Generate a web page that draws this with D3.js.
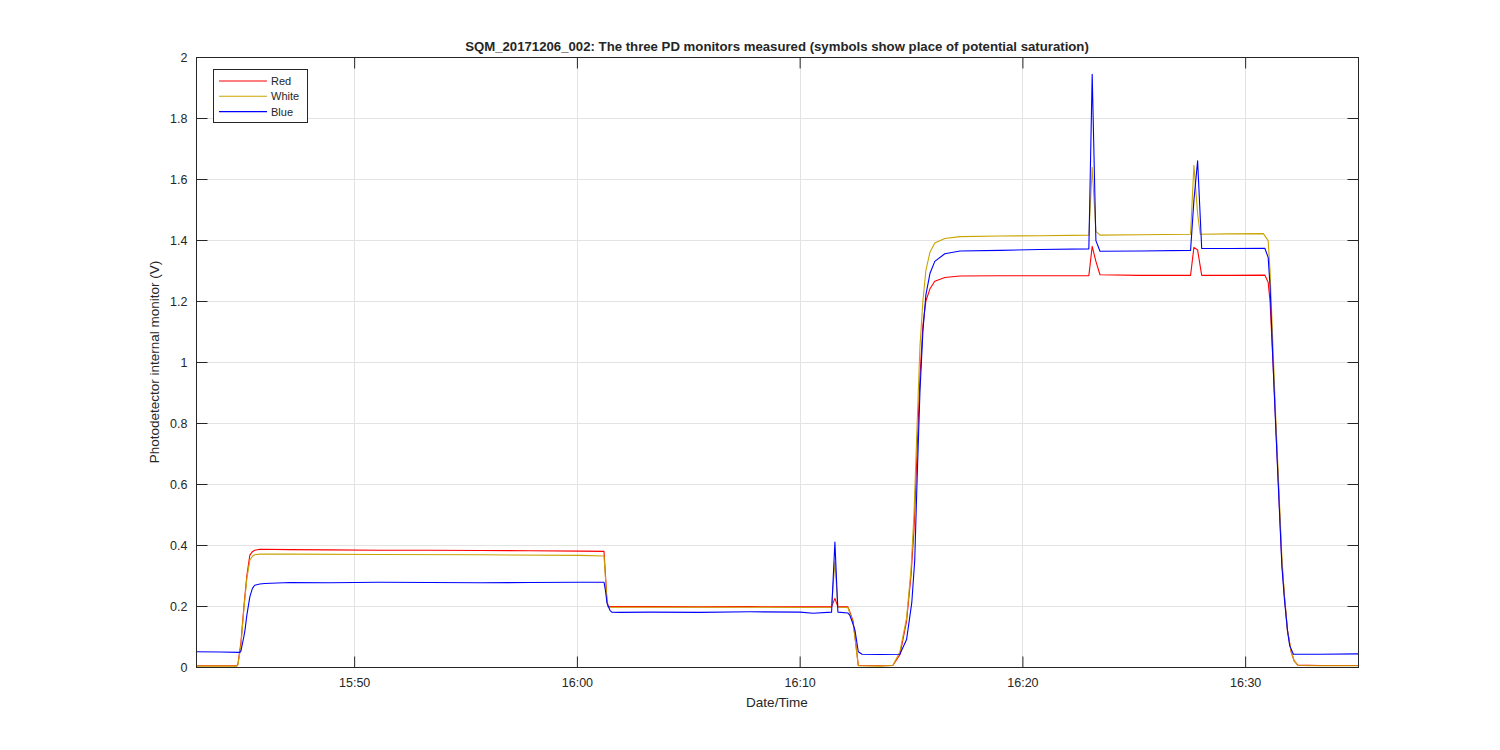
<!DOCTYPE html>
<html>
<head>
<meta charset="utf-8">
<script src="https://cdn.jsdelivr.net/npm/d3@7"></script>
<style>
  body { margin: 0; background: #fff; }
  svg { display: block; }
  text { font-family: "Liberation Sans", Arial, Helvetica, sans-serif; fill: #262626; }
</style>
</head>
<body>
<svg id="chart" width="1500" height="750"></svg>
<script>
// ---- data (time "HH:MM:SS" on 2017-12-06, value in V) ----
const seriesNames = ["Red", "White", "Blue"];
const seriesColors = ["#ff0000", "#c9a400", "#0000ff"];

const red = [
  ["15:42:54",0.004],["15:44:44",0.004],["15:44:47",0.010],["15:44:55",0.080],["15:45:03",0.197],
  ["15:45:11",0.300],["15:45:19",0.367],["15:45:26",0.378],["15:45:32",0.383],["15:45:46",0.386],
  ["15:47:07",0.385],["15:48:54",0.384],["15:51:09",0.383],["15:53:24",0.383],["15:55:39",0.382],
  ["15:57:53",0.381],["16:00:08",0.380],["16:01:13",0.379],["16:01:17",0.300],["16:01:21",0.220],
  ["16:01:24",0.198],["16:03:17",0.198],["16:05:31",0.197],["16:07:46",0.198],["16:10:01",0.197],
  ["16:11:26",0.197],["16:11:35",0.225],["16:11:43",0.197],["16:12:10",0.197],["16:12:15",0.181],
  ["16:12:24",0.150],["16:12:29",0.100],["16:12:38",0.005],["16:13:36",0.004],["16:14:11",0.005],
  ["16:14:30",0.040],["16:14:48",0.150],["16:15:00",0.300],["16:15:08",0.450],["16:15:16",0.700],
  ["16:15:24",0.950],["16:15:32",1.120],["16:15:40",1.200],["16:15:51",1.240],["16:16:04",1.265],
  ["16:16:31",1.277],["16:17:12",1.282],["16:18:59",1.283],["16:20:47",1.283],["16:22:59",1.283],
  ["16:23:08",1.379],["16:23:18",1.330],["16:23:29",1.286],["16:25:17",1.284],["16:27:33",1.284],
  ["16:27:42",1.376],["16:27:52",1.367],["16:28:03",1.284],["16:29:19",1.284],["16:30:53",1.285],
  ["16:31:02",1.261],["16:31:07",1.200],["16:31:15",1.000],["16:31:23",0.780],["16:31:31",0.560],
  ["16:31:39",0.340],["16:31:46",0.230],["16:31:54",0.120],["16:32:04",0.050],["16:32:12",0.020],
  ["16:32:22",0.006],["16:33:22",0.005],["16:35:04",0.005]
];

const white = [
  ["15:42:54",0.003],["15:44:44",0.003],["15:44:47",0.008],["15:44:55",0.070],["15:45:03",0.190],
  ["15:45:11",0.290],["15:45:19",0.350],["15:45:26",0.363],["15:45:32",0.368],["15:45:46",0.370],
  ["15:47:07",0.370],["15:51:09",0.369],["15:55:39",0.368],["16:00:08",0.366],["16:01:13",0.364],
  ["16:01:17",0.290],["16:01:21",0.215],["16:01:24",0.196],["16:03:17",0.196],["16:05:31",0.196],
  ["16:07:46",0.196],["16:10:01",0.195],["16:11:26",0.196],["16:11:35",0.345],["16:11:43",0.196],
  ["16:12:10",0.195],["16:12:15",0.178],["16:12:24",0.145],["16:12:29",0.095],["16:12:38",0.004],
  ["16:13:36",0.003],["16:14:11",0.005],["16:14:30",0.050],["16:14:48",0.160],["16:15:00",0.320],
  ["16:15:08",0.500],["16:15:16",0.780],["16:15:24",1.050],["16:15:32",1.200],["16:15:40",1.300],
  ["16:15:51",1.360],["16:16:04",1.390],["16:16:31",1.405],["16:17:12",1.411],["16:18:59",1.413],
  ["16:20:47",1.414],["16:22:59",1.416],["16:23:08",1.638],["16:23:18",1.428],["16:23:29",1.416],
  ["16:25:17",1.417],["16:27:33",1.419],["16:27:42",1.645],["16:27:52",1.486],["16:27:59",1.419],
  ["16:29:19",1.420],["16:30:49",1.421],["16:31:02",1.398],["16:31:07",1.300],["16:31:15",1.050],
  ["16:31:23",0.800],["16:31:31",0.580],["16:31:39",0.360],["16:31:46",0.230],["16:31:54",0.120],
  ["16:32:04",0.050],["16:32:12",0.020],["16:32:22",0.005],["16:33:22",0.004],["16:35:04",0.004]
];

const blue = [
  ["15:42:54",0.050],["15:44:00",0.049],["15:44:52",0.048],["15:44:55",0.052],["15:45:03",0.100],
  ["15:45:06",0.121],["15:45:11",0.170],["15:45:19",0.230],["15:45:26",0.258],["15:45:32",0.268],
  ["15:45:46",0.272],["15:45:59",0.274],["15:47:07",0.277],["15:48:54",0.276],["15:51:09",0.278],
  ["15:53:24",0.277],["15:55:39",0.276],["15:57:53",0.277],["16:00:08",0.278],["16:01:13",0.278],
  ["16:01:17",0.250],["16:01:21",0.210],["16:01:29",0.186],["16:01:34",0.180],["16:01:56",0.179],
  ["16:03:17",0.180],["16:05:31",0.179],["16:07:46",0.181],["16:10:01",0.180],["16:10:36",0.176],
  ["16:11:26",0.180],["16:11:35",0.410],["16:11:43",0.180],["16:12:10",0.177],["16:12:15",0.170],
  ["16:12:24",0.140],["16:12:29",0.121],["16:12:38",0.050],["16:12:48",0.042],["16:13:36",0.041],
  ["16:14:30",0.042],["16:14:48",0.090],["16:15:02",0.210],["16:15:10",0.350],["16:15:16",0.600],
  ["16:15:24",0.900],["16:15:32",1.100],["16:15:40",1.220],["16:15:51",1.290],["16:16:04",1.330],
  ["16:16:31",1.355],["16:17:12",1.364],["16:18:59",1.366],["16:20:47",1.369],["16:22:59",1.371],
  ["16:23:08",1.943],["16:23:18",1.398],["16:23:29",1.363],["16:25:17",1.364],["16:27:33",1.366],
  ["16:27:42",1.530],["16:27:52",1.660],["16:28:03",1.372],["16:29:19",1.372],["16:30:53",1.373],
  ["16:31:02",1.343],["16:31:07",1.250],["16:31:15",1.000],["16:31:23",0.770],["16:31:31",0.550],
  ["16:31:39",0.330],["16:31:46",0.220],["16:31:54",0.120],["16:32:00",0.070],["16:32:10",0.042],
  ["16:33:22",0.042],["16:35:04",0.043]
];

const xDomain = ["15:42:54", "16:35:04"];
const xTickLabels = ["15:50", "16:00", "16:10", "16:20", "16:30"];
const yTicks = [0, 0.2, 0.4, 0.6, 0.8, 1, 1.2, 1.4, 1.6, 1.8, 2];

const titleText = "SQM_20171206_002: The three PD monitors measured (symbols show place of potential saturation)";
const xLabel = "Date/Time";
const yLabel = "Photodetector internal monitor (V)";

// ---- drawing ----
const parseT = d3.timeParse("%Y-%m-%d %H:%M:%S");
const T = s => parseT("2017-12-06 " + (s.length === 5 ? s + ":00" : s));

const margin = {left: 196, top: 57, right: 1358, bottom: 667};
const svg = d3.select("#chart");

const x = d3.scaleTime().domain(xDomain.map(T)).range([margin.left, margin.right]);
const y = d3.scaleLinear().domain([0, 2]).range([margin.bottom, margin.top]);

const xTicks = xTickLabels.map(T);
const axisColor = "#262626";
const gridColor = "#e3e3e3";
const tickLen = 11;

// grid
const grid = svg.append("g");
grid.selectAll(".gx").data(xTicks).enter().append("line")
  .attr("x1", d => Math.round(x(d)) + 0.5).attr("x2", d => Math.round(x(d)) + 0.5)
  .attr("y1", margin.top).attr("y2", margin.bottom)
  .attr("stroke", gridColor).attr("stroke-width", 1);
grid.selectAll(".gy").data(yTicks.slice(1, -1)).enter().append("line")
  .attr("y1", d => Math.round(y(d)) + 0.5).attr("y2", d => Math.round(y(d)) + 0.5)
  .attr("x1", margin.left).attr("x2", margin.right)
  .attr("stroke", gridColor).attr("stroke-width", 1);

// axes with inward ticks on all sides
const fmtY = d => String(+d.toFixed(1));
const gL = svg.append("g").attr("transform", `translate(${margin.left + 0.5},0)`)
  .call(d3.axisLeft(y).tickValues(yTicks).tickSizeInner(-tickLen).tickSizeOuter(0).tickPadding(9).tickFormat(fmtY));
const gR = svg.append("g").attr("transform", `translate(${margin.right + 0.5},0)`)
  .call(d3.axisRight(y).tickValues(yTicks).tickSizeInner(-tickLen).tickSizeOuter(0).tickFormat(""));
const gB = svg.append("g").attr("transform", `translate(0,${margin.bottom + 0.5})`)
  .call(d3.axisBottom(x).tickValues(xTicks).tickSizeInner(-tickLen).tickSizeOuter(0).tickPadding(11).tickFormat(d3.timeFormat("%H:%M")));
const gT = svg.append("g").attr("transform", `translate(0,${margin.top + 0.5})`)
  .call(d3.axisTop(x).tickValues(xTicks).tickSizeInner(-tickLen).tickSizeOuter(0).tickFormat(""));
[gL, gR, gB, gT].forEach(g => {
  g.select(".domain").remove();
  g.selectAll(".tick line").attr("stroke", axisColor);
  g.selectAll(".tick text").attr("fill", axisColor).style("font-size", "12.5px")
    .style("font-family", '"Liberation Sans", Arial, sans-serif');
});

// series lines
const line = d3.line().x(d => x(T(d[0]))).y(d => y(d[1]));
const allSeries = [red, white, blue];
const plot = svg.append("g");
plot.append("clipPath").attr("id", "clip").append("rect")
  .attr("x", margin.left).attr("y", margin.top)
  .attr("width", margin.right - margin.left).attr("height", margin.bottom - margin.top);
allSeries.forEach((s, i) => {
  plot.append("path").datum(s)
    .attr("d", line).attr("fill", "none")
    .attr("stroke", seriesColors[i]).attr("stroke-width", 1.1)
    .attr("stroke-linejoin", "round")
    .attr("clip-path", "url(#clip)");
});

// box
svg.append("rect")
  .attr("x", margin.left + 0.5).attr("y", margin.top + 0.5)
  .attr("width", margin.right - margin.left).attr("height", margin.bottom - margin.top)
  .attr("fill", "none").attr("stroke", axisColor).attr("stroke-width", 1);

// title and labels
svg.append("text").attr("x", (margin.left + margin.right) / 2).attr("y", 51)
  .attr("text-anchor", "middle").style("font-size", "13.2px").style("font-weight", "bold")
  .attr("fill", "#000").text(titleText);
svg.append("text").attr("x", (margin.left + margin.right) / 2).attr("y", 707)
  .attr("text-anchor", "middle").style("font-size", "13.5px").text(xLabel);
svg.append("text").attr("transform", `translate(159,${(margin.top + margin.bottom) / 2}) rotate(-90)`)
  .attr("text-anchor", "middle").style("font-size", "13.5px").text(yLabel);

// legend
const lg = svg.append("g");
lg.append("rect").attr("x", 213.5).attr("y", 69.5).attr("width", 94).attr("height", 53)
  .attr("fill", "#fff").attr("stroke", axisColor).attr("stroke-width", 1);
seriesNames.forEach((n, i) => {
  const yy = 81 + i * 15.3;
  lg.append("line").attr("x1", 219).attr("x2", 267).attr("y1", yy).attr("y2", yy)
    .attr("stroke", seriesColors[i]).attr("stroke-width", 1.1);
  lg.append("text").attr("x", 271).attr("y", yy + 4).style("font-size", "11px")
    .attr("fill", "#000").text(n);
});
</script>
</body>
</html>
